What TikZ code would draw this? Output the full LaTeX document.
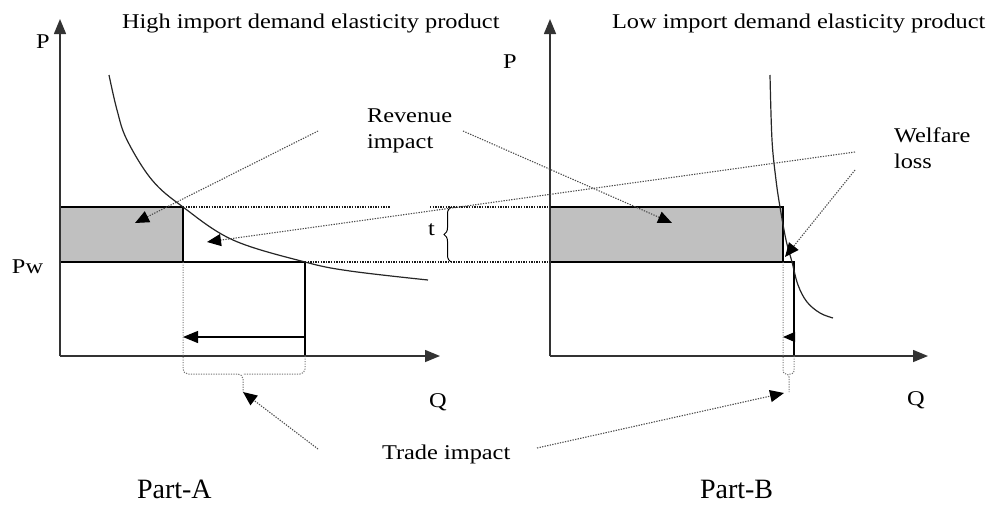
\documentclass[tikz,border=0pt]{standalone}
\usepackage{fontspec}
\setmainfont{Liberation Serif}
\usetikzlibrary{arrows.meta,decorations.pathreplacing}
\definecolor{shade}{HTML}{C0C0C0}
\newcommand{\lbl}[1]{\fontsize{21}{26}\selectfont\scalebox{1.16}[1]{#1}}
\newcommand{\lbltwo}[2]{\fontsize{21}{26}\selectfont\scalebox{1.16}[1]{\begin{tabular}[t]{@{}l@{}}#1\\#2\end{tabular}}}
\begin{document}
\begin{tikzpicture}[x=1pt,y=-1pt,
  axis/.style={line width=1.5pt, draw=black!80, -{Triangle[length=15pt,width=12pt]}},
  frame/.style={line width=1.2pt, draw=black},
  curve/.style={line width=1.2pt, draw=black!85},
  dotline/.style={line width=1.1pt, draw=black!90, dash pattern=on 1.3pt off 1.3pt},
  bracedot/.style={line width=1pt, draw=black!55, dash pattern=on 1.2pt off 1.3pt, rounded corners=5pt},
  note/.style={line width=1.1pt, draw=black!70, dash pattern=on 1.3pt off 1.3pt, -{Triangle[length=14pt,width=12pt,color=black]}},
  lab/.style={anchor=base west, inner sep=0pt, outer sep=0pt},
  solidarrow/.style={frame, -{Triangle[length=15pt,width=12pt]}}
]
\path[use as bounding box] (0,0) rectangle (990,504);

% ---------- Part A ----------
\coordinate (LO) at (60,356);
\coordinate (LYt) at (60,19);
\coordinate (LXt) at (440,356);
\coordinate (LA) at (60,207);
\coordinate (LB) at (183,207);
\coordinate (LC) at (183,262);
\coordinate (LD) at (60,262);
\coordinate (LE) at (305,262);
\coordinate (LF) at (305,356);
\coordinate (La1) at (305,337);
\coordinate (La2) at (183,337);

\filldraw[fill=shade, frame] (LA) rectangle (LC);
\draw[frame] (LD) -- (LE) -- (LF);
\draw[axis] (LO) -- (LYt);
\draw[axis] (LO) -- (LXt);
\draw[solidarrow] (La1) -- (La2);

\draw[curve] plot[smooth, tension=0.6] coordinates {(109,75) (117,110) (127,140) (152,180) (183,207) (233,240) (305,262) (350,271) (428,280)};

% ---------- Part B ----------
\coordinate (RO) at (550,356);
\coordinate (RYt) at (550,19);
\coordinate (RXt) at (928,356);
\coordinate (RA) at (550,207);
\coordinate (RB) at (783,207);
\coordinate (RC) at (783,262);
\coordinate (RD) at (550,262);
\coordinate (RE) at (794,262);
\coordinate (RF) at (794,356);
\coordinate (Ra1) at (794,337);
\coordinate (Ra2) at (783,337);

\filldraw[fill=shade, frame] (RA) rectangle (RC);
\draw[frame] (RD) -- (RE) -- (RF);
\draw[axis] (RO) -- (RYt);
\draw[axis] (RO) -- (RXt);
\draw[frame, -{Triangle[length=12pt,width=10pt]}] (Ra1) -- (Ra2);

\draw[curve] plot[smooth, tension=0.6] coordinates {(770,75) (772,140) (776,180) (780,207) (786,240) (792,262) (798,285) (807,302) (820,313) (833,318)};

% ---------- dotted guide lines ----------
\coordinate (G1) at (390,207);
\coordinate (G2) at (430,207);
\draw[dotline] (LB) -- (G1);
\draw[dotline] (G2) -- (RA);
\draw[dotline] (LE) -- (RD);

% t brace
\coordinate (T1) at (451,262);
\coordinate (T2) at (451,207);
\draw[decorate, decoration={brace, amplitude=7pt}, line width=1pt] (T1) -- (T2);
\node[lab] (tl) at (428,235) {\lbl{t}};

% trade impact braces
\coordinate (BLc) at (243,374);
\coordinate (BLt) at (243,392);
\draw[bracedot] (LC) -- (183,374) -- (BLc) -- (BLt);
\draw[bracedot] (LF) -- (305,374) -- (BLc);
\coordinate (BRc) at (789,374);
\coordinate (BRt) at (789,392);
\draw[bracedot, rounded corners=3pt] (RC) -- (783,374) -- (BRc) -- (BRt);
\draw[bracedot, rounded corners=3pt] (RF) -- (794,374) -- (BRc);

% ---------- labels ----------
\node[lab] (t1) at (122,28) {\lbl{High import demand elasticity product}};
\node[lab] (t2) at (612,28) {\lbl{Low import demand elasticity product}};
\node[lab] (pL) at (36,48) {\lbl{P}};
\node[lab] (pR) at (503,68) {\lbl{P}};
\node[lab] (pw) at (12,273) {\lbl{Pw}};
\node[lab] (qL) at (429,407) {\lbl{Q}};
\node[lab] (qR) at (907,405) {\lbl{Q}};
\node[lab] (rev) at (367,122) {\lbltwo{Revenue}{impact}};
\node[lab] (wel) at (894,142) {\lbltwo{Welfare}{loss}};
\node[lab] (tri) at (382,459) {\lbl{Trade impact}};
\node[lab] (pa) at (137,498) {\fontsize{28}{32}\selectfont Part-A};
\node[lab] (pb) at (700,498) {\fontsize{28}{32}\selectfont Part-B};

% ---------- annotation arrows ----------
\coordinate (r1s) at (318,131);
\coordinate (r1e) at (135,223);
\coordinate (r2s) at (463,131);
\coordinate (r2e) at (672,223);
\draw[note] (r1s) -- (r1e);
\draw[note] (r2s) -- (r2e);

\coordinate (w1s) at (855,152);
\coordinate (w1e) at (207,242);
\coordinate (w2s) at (855,170);
\coordinate (w2e) at (785,257);
\draw[note] (w1s) -- (w1e);
\draw[note] (w2s) -- (w2e);

\coordinate (d1s) at (318,449);
\coordinate (d2s) at (537,448);
\coordinate (d2e) at (784,393);
\draw[note] (d1s) -- (BLt);
\draw[note] (d2s) -- (d2e);
\end{tikzpicture}
\end{document}
